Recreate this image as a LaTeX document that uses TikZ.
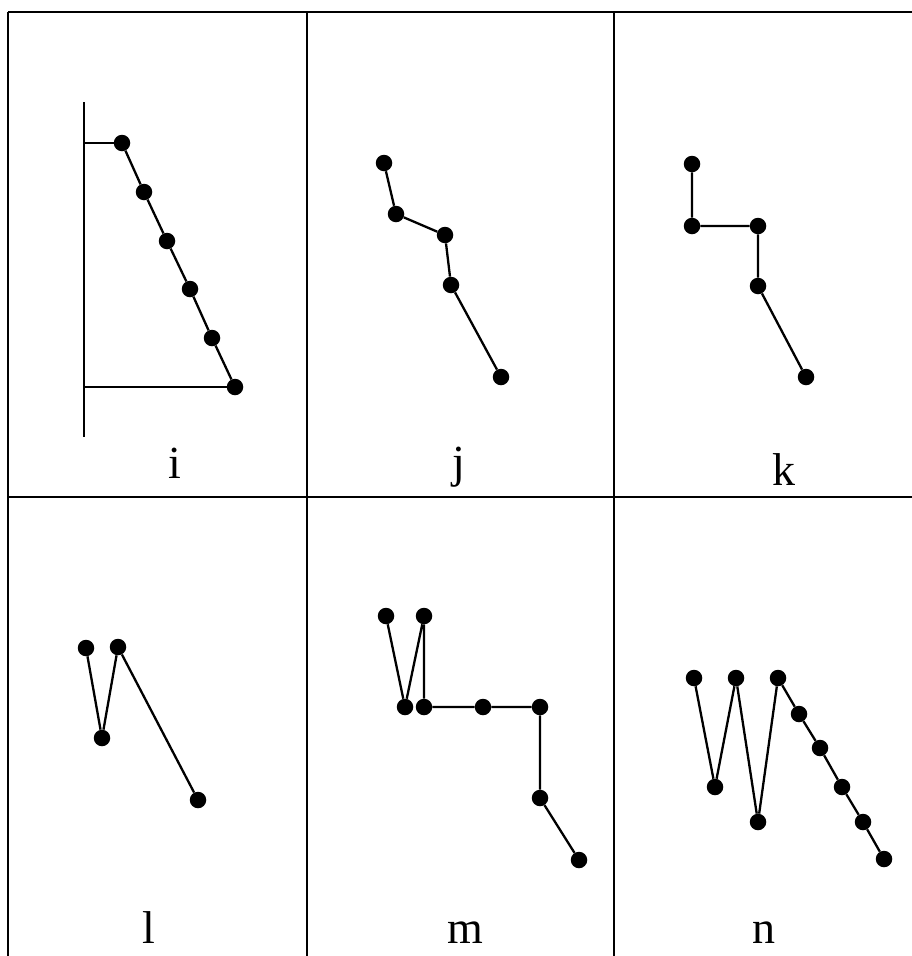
\documentclass[tikz,border=0pt]{standalone}
\usepackage{fontspec}
\setmainfont{Liberation Serif}
\begin{document}
\begin{tikzpicture}[x=1pt,y=-1pt,
  dot/.style={circle,fill=black,inner sep=0pt,minimum size=16.5pt},
  link/.style={line width=2.3pt},
  gridline/.style={line width=2.4pt},
  lab/.style={font=\fontsize{46}{46}\selectfont,anchor=base,inner sep=0pt}]
\useasboundingbox (0,0) rectangle (912,956);
% grid
\draw[gridline] (8,12) -- (912,12);
\draw[gridline] (8,497) -- (912,497);
\draw[gridline] (8,12) -- (8,956);
\draw[gridline] (307,12) -- (307,956);
\draw[gridline] (614,12) -- (614,956);

% panel i
\coordinate (itop) at (84,102);
\coordinate (ibot) at (84,437);
\coordinate (ia) at (84,143);
\coordinate (ib) at (84,387);
\node[dot] (i1) at (122,143) {};
\node[dot] (i2) at (144,192) {};
\node[dot] (i3) at (167,241) {};
\node[dot] (i4) at (190,289) {};
\node[dot] (i5) at (212,338) {};
\node[dot] (i6) at (235,387) {};
\draw[link] (itop) -- (ibot);
\draw[link] (ia) -- (i1);
\draw[link] (ib) -- (i6);
\draw[link] (i1) -- (i2) -- (i3) -- (i4) -- (i5) -- (i6);
\node[lab] (li) at (175,478) {i};

% panel j
\node[dot] (j1) at (384,163) {};
\node[dot] (j2) at (396,214) {};
\node[dot] (j3) at (445,235) {};
\node[dot] (j4) at (451,285) {};
\node[dot] (j5) at (501,377) {};
\draw[link] (j1) -- (j2) -- (j3) -- (j4) -- (j5);
\node[lab] (lj) at (459,477) {j};

% panel k
\node[dot] (k1) at (692,164) {};
\node[dot] (k2) at (692,226) {};
\node[dot] (k3) at (758,226) {};
\node[dot] (k4) at (758,286) {};
\node[dot] (k5) at (806,377) {};
\draw[link] (k1) -- (k2) -- (k3) -- (k4) -- (k5);
\node[lab] (lk) at (784,485) {k};

% panel l
\node[dot] (l1) at (86,648) {};
\node[dot] (l2) at (102,738) {};
\node[dot] (l3) at (118,647) {};
\node[dot] (l4) at (198,800) {};
\draw[link] (l1) -- (l2) -- (l3) -- (l4);
\node[lab] (ll) at (149,943) {l};

% panel m
\node[dot] (m1) at (386,616) {};
\node[dot] (m2) at (405,707) {};
\node[dot] (m3) at (424,616) {};
\node[dot] (m4) at (424,707) {};
\node[dot] (m5) at (483,707) {};
\node[dot] (m6) at (540,707) {};
\node[dot] (m7) at (540,798) {};
\node[dot] (m8) at (579,860) {};
\draw[link] (m1) -- (m2) -- (m3) -- (m4) -- (m5) -- (m6) -- (m7) -- (m8);
\node[lab] (lm) at (465,943) {m};

% panel n
\node[dot] (n1) at (694,678) {};
\node[dot] (n2) at (715,787) {};
\node[dot] (n3) at (736,678) {};
\node[dot] (n4) at (758,822) {};
\node[dot] (n5) at (778,678) {};
\node[dot] (n6) at (799,714) {};
\node[dot] (n7) at (820,748) {};
\node[dot] (n8) at (842,787) {};
\node[dot] (n9) at (863,822) {};
\node[dot] (n10) at (884,859) {};
\draw[link] (n1) -- (n2) -- (n3) -- (n4) -- (n5) -- (n6) -- (n7) -- (n8) -- (n9) -- (n10);
\node[lab] (ln) at (764,943) {n};
\end{tikzpicture}
\end{document}
